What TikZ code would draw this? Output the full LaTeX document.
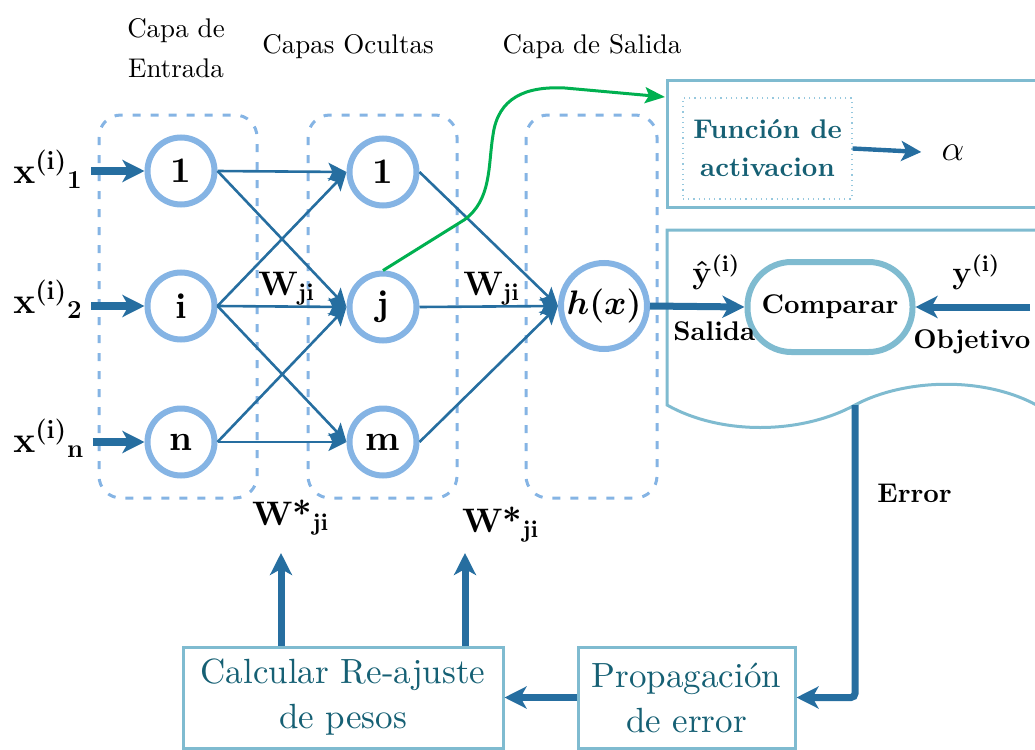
\RequirePackage{fix-cm}
\documentclass[tikz,border=0pt]{standalone}
\usepackage{fontspec}
\setmainfont{lmroman10-regular}[Extension=.otf,BoldFont=lmroman10-bold,ItalicFont=lmroman10-italic,BoldItalicFont=lmroman10-bolditalic]
\usepackage{amsmath,amssymb}
\usetikzlibrary{arrows.meta}

\definecolor{neuronblue}{RGB}{133,180,228}
\definecolor{arrowblue}{RGB}{38,110,160}
\definecolor{boxteal}{RGB}{127,187,208}
\definecolor{textteal}{RGB}{22,96,116}
\definecolor{dotblue}{RGB}{150,200,222}
\definecolor{linkgreen}{RGB}{0,176,80}

\begin{document}
\begin{tikzpicture}[x=0.5pt,y=-0.5pt,
    neuron/.style={circle,draw=neuronblue,line width=3pt,minimum size=33.5pt,inner sep=0pt,font=\fontsize{18}{20}\selectfont\bfseries},
    layerbox/.style={neuronblue,line width=1.5pt,dash pattern=on 4pt off 5pt,rounded corners=11pt},
    link/.style={arrowblue,line width=1.3pt,-{Stealth[length=9pt,width=9pt,inset=2pt]}},
    feed/.style={arrowblue,line width=3.5pt,-{Stealth[length=11pt,width=11pt,inset=3pt]}},
    procbox/.style={draw=boxteal,line width=1.5pt,text=textteal,align=center,font=\fontsize{17.5}{22.5}\selectfont},
    tag/.style={inner sep=0pt,font=\fontsize{13.5}{15}\selectfont\bfseries},
    mtag/.style={inner sep=0pt,font=\fontsize{16}{18}\selectfont\boldmath},
    wtag/.style={inner sep=0pt,anchor=base west,font=\fontsize{17}{19}\selectfont\boldmath},
    title/.style={align=center,font=\fontsize{13.5}{20}\selectfont}]
  \clip (0,0) rectangle (1035,750);

  % capas
  \draw[layerbox] (99,115) rectangle (257,498);
  \draw[layerbox] (308,115) rectangle (457,498);
  \draw[layerbox] (526,115) rectangle (657,498);
  \node[title] (tent) at (176,48) {Capa de\\Entrada};
  \node[title,anchor=base] (toc) at (348,53) {Capas Ocultas};
  \node[title,anchor=base] (tsal) at (592,53) {Capa de Salida};

  % neuronas
  \node[neuron] (e1) at (181,171) {1};
  \node[neuron] (ei) at (181,306) {i};
  \node[neuron] (en) at (181,442) {n};
  \node[neuron] (o1) at (383,172) {1};
  \node[neuron] (oj) at (383,307) {j};
  \node[neuron] (om) at (383,442) {m};
  \node[neuron,minimum size=43pt,font=\fontsize{17}{19}\selectfont\boldmath] (hx) at (604,306) {$h(x)$};

  \foreach \a/\b in {e1/o1,e1/oj,ei/o1,ei/oj,ei/om,en/oj,en/om}
    \draw[link] (\a.east) -- (\b.west);
  \foreach \b in {o1,oj,om}
    \draw[link] (\b.east) -- (hx.west);

  \foreach \s/\y/\t in {1/183/e1,2/313/ei,n/452/en}{
    \node[mtag,font=\fontsize{18.5}{20}\selectfont\boldmath,anchor=base west] (x\s) at (13,\y) {$\mathbf{x}^{(\mathbf{i})}{}_{\mathbf{\s}}$};
    \draw[feed,line width=4pt,shorten <=4pt] (x\s.east |- \t) -- (\t.west);
  }

  \node[wtag] (wa) at (258,295) {$\mathbf{W}_{\mathbf{ji}}$};
  \node[wtag] (wb) at (463,295) {$\mathbf{W}_{\mathbf{ji}}$};
  \node[wtag] (wsa) at (252,525) {\textbf{W*}$_{\mathbf{ji}}$};
  \node[wtag] (wsb) at (462,532) {\textbf{W*}$_{\mathbf{ji}}$};

  % funcion de activacion
  \draw[boxteal,line width=1.5pt] (1045,80) -- (667,80) -- (667,207) -- (1045,207);
  \node[draw=dotblue,dotted,line width=0.6pt,minimum width=84.5pt,minimum height=50.5pt,align=center,
        text=textteal,font=\fontsize{13.5}{19}\selectfont\bfseries] (func) at (767.5,148.5) {Función de\\activacion};
  \node[inner sep=0pt,font=\fontsize{18}{20}\selectfont] (alf) at (953,153) {$\alpha$};
  \draw[arrowblue,line width=2.2pt,-{Stealth[length=10pt,width=10pt,inset=2.5pt]},shorten >=10pt] (func.east) -- (alf.west);
  \coordinate (gend) at (665,97);
  \draw[linkgreen,line width=1.5pt,-{Stealth[length=10pt,width=8pt,inset=2pt]}]
    (oj.north) -- (464,220) .. controls (492,200) and (488,165) .. (493,135)
    .. controls (498,98) and (525,86) .. (565,88) -- (gend);

  % comparar
  \draw[boxteal,line width=1.5pt] (1045,230) -- (667,230) -- (667,405)
    .. controls (720,435) and (800,435) .. (855,405)
    .. controls (905,378) and (990,375) .. (1045,410);
  \coordinate (errtop) at (855,405);
  \node[draw=boxteal,line width=3pt,minimum width=82.5pt,minimum height=45pt,rounded corners=22pt,tag] (comp) at (830,307) {Comparar};
  \coordinate (obj) at (1030,307);
  \draw[feed] (hx.east) -- (comp.west);
  \draw[feed] (obj) -- (comp.east);
  \node[mtag,anchor=base west] (yh) at (692,283) {$\hat{\mathbf{y}}^{(\mathbf{i})}$};
  \node[mtag,anchor=base west] (yo) at (952,283) {$\mathbf{y}^{(\mathbf{i})}$};
  \node[tag,anchor=base west] (sal) at (673,340) {Salida};
  \node[tag,anchor=base west] (objt) at (913,348) {Objetivo};
  \node[tag,anchor=base west] (err) at (877,502) {Error};

  % retropropagacion
  \node[procbox,minimum width=160pt,minimum height=50.5pt] (calc) at (343,697.5) {Calcular Re-ajuste\\de pesos};
  \node[procbox,minimum width=108.5pt,minimum height=50.5pt] (prop) at (686.5,697.5) {Propagación\\de error};
  \draw[feed,rounded corners=2pt] (errtop) |- (prop.east);
  \draw[feed] (prop.west) -- (calc.east);
  \coordinate (ua) at (281,553);
  \coordinate (ub) at (465,553);
  \foreach \c in {ua,ub}
    \draw[feed] (calc.north -| \c) -- (\c);
\end{tikzpicture}
\end{document}
